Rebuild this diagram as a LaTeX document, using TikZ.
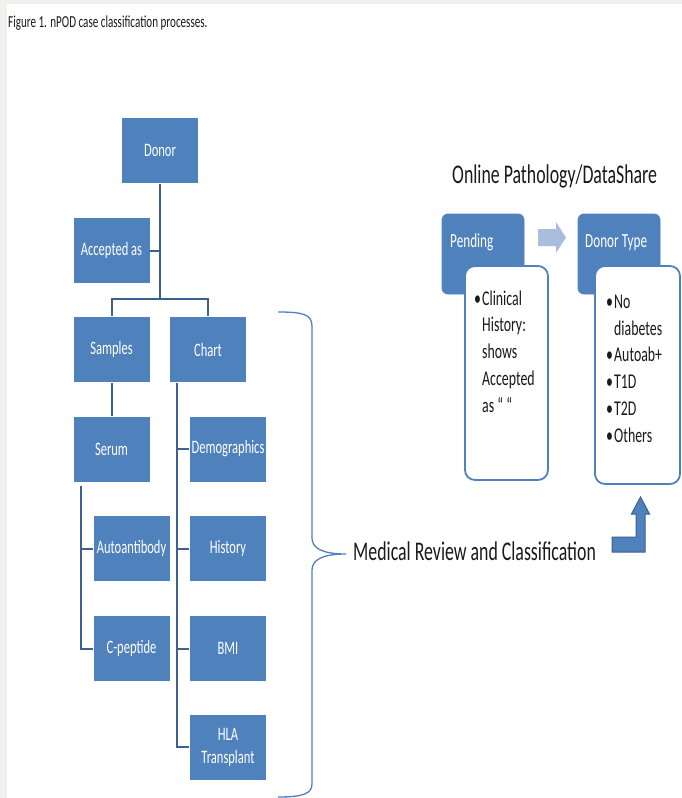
\documentclass[tikz,border=0pt]{standalone}
\usepackage{fontspec}
\setmainfont[FakeStretch=0.66]{Carlito}
\definecolor{boxblue}{HTML}{4F81BD}
\definecolor{linkblue}{HTML}{3C6091}
\definecolor{lightarrow}{HTML}{A9BEDC}
\definecolor{bggray}{HTML}{F0F0EC}
\definecolor{txt}{HTML}{1A1A1A}
\begin{document}
\begin{tikzpicture}[x=1pt,y=-1pt,
  bbox/.style={rectangle, fill=boxblue, draw=white, line width=0.6pt,
    minimum width=77pt, minimum height=66pt, inner sep=0pt, text=white,
    font=\fontsize{19}{23}\selectfont, align=center},
  link/.style={draw=linkblue, line width=2pt},
  hdr/.style={rectangle, rounded corners=6pt, fill=boxblue, draw=boxblue,
    line width=0.8pt, minimum width=82pt, minimum height=80pt, inner sep=0pt},
  wbox/.style={rectangle, rounded corners=10pt, fill=white, draw=boxblue,
    line width=1.8pt, inner sep=0pt},
  hdrtext/.style={anchor=base west, inner sep=0pt, text=white,
    font=\fontsize{20}{24}\selectfont},
  listtext/.style={anchor=base west, inner sep=0pt, text=txt,
    font=\fontsize{21}{26}\selectfont},
  bigtext/.style={anchor=base west, inner sep=0pt, text=txt,
    font=\fontsize{27}{32}\selectfont},
  brace/.style={draw=boxblue, line width=1.3pt}
]
\useasboundingbox (0,0) rectangle (682,798);
\fill[bggray] (0,0) rectangle (682,798);
\fill[white] (7,4) rectangle (682,798);

% title
\node[anchor=base west, inner sep=0pt, text=txt, font=\fontsize{16.8}{20}\selectfont] (title) at (8,27) {Figure 1. nPOD case classification processes.};

% tree boxes
\node[bbox] (donor)   at (160,150.5) {Donor};
\node[bbox] (acc)     at (111.5,250.5) {Accepted as};
\node[bbox] (samples) at (111.5,349.5) {Samples};
\node[bbox] (chart)   at (208,349.5) {Chart};
\node[bbox] (serum)   at (111.5,449) {Serum};
\node[bbox] (demo)    at (228,449) {Demographics};
\node[bbox] (auto)    at (131.5,548.5) {Autoantibody};
\node[bbox] (hist)    at (228,548.5) {History};
\node[bbox] (cpep)    at (131.5,648.5) {C-peptide};
\node[bbox] (bmi)     at (228,648.5) {BMI};
\node[bbox] (hla)     at (228,747) {HLA\\Transplant};

% connectors
\coordinate (j1) at (160,299);
\draw[link] (donor.south) -- (j1);
\draw[link] (acc.east) -- (acc.east -| j1);
\draw[link] (samples.north) -- (samples.north |- j1) -- (chart.north |- j1) -- (chart.north);
\draw[link] (samples.south) -- (serum.north);
\coordinate (sv) at (81,486);
\draw[link] (sv) |- (cpep.west);
\draw[link] (sv |- auto.west) -- (auto.west);
\coordinate (cv) at (177,383);
\draw[link] (cv) |- (hla.west);
\draw[link] (cv |- demo.west) -- (demo.west);
\draw[link] (cv |- hist.west) -- (hist.west);
\draw[link] (cv |- bmi.west) -- (bmi.west);

% brace
\coordinate (btip) at (346,554);
\draw[brace] (278,312) .. controls (302,312) and (312,314) .. (312,326)
  -- (312,538) .. controls (312,548) and (322,554) .. (btip)
  .. controls (322,554) and (312,560) .. (312,570)
  -- (312,784) .. controls (312,794) and (302,797) .. (278,797);
\node[bigtext] (mrc) at (353,560) {Medical Review and Classification};

% right side
\node[bigtext] (online) at (452,183) {Online Pathology/DataShare};
\node[hdr] (pending) at (483,254) {};
\node[hdr] (dtype) at (619,254) {};
\node[wbox, minimum width=83pt, minimum height=214pt] (w1) at (506.5,373) {};
\node[wbox, minimum width=85pt, minimum height=218pt] (w2) at (637.5,375) {};
\node[hdrtext] (pendtxt) at (450,247) {Pending};
\node[hdrtext] (dtypetxt) at (585,247) {Donor Type};

% light arrow between headers
\fill[lightarrow] (538,229) -- (556,229) -- (556,222) -- (566,237.5) -- (556,253) -- (556,246) -- (538,246) -- cycle;

% lists
\node[listtext] (c1) at (474,305) {\makebox[8pt][l]{•}Clinical};
\node[listtext] (c2) at (474,331.7) {\hspace*{8pt}History:};
\node[listtext] (c3) at (474,358.4) {\hspace*{8pt}shows};
\node[listtext] (c4) at (474,385) {\hspace*{8pt}Accepted};
\node[listtext] (c5) at (474,412) {\hspace*{8pt}as “ “};

\node[listtext] (d1) at (606,308) {\makebox[8pt][l]{•}No};
\node[listtext] (d2) at (606,335) {\hspace*{8pt}diabetes};
\node[listtext] (d3) at (606,361) {\makebox[8pt][l]{•}Autoab+};
\node[listtext] (d4) at (606,388) {\makebox[8pt][l]{•}T1D};
\node[listtext] (d5) at (606,415) {\makebox[8pt][l]{•}T2D};
\node[listtext] (d6) at (606,442) {\makebox[8pt][l]{•}Others};

% bent-up arrow
\draw[fill=boxblue, draw=linkblue, line width=1pt, line join=miter]
  (612,537) -- (636,537) -- (636,514) -- (631.5,514) -- (640.5,497) -- (649.5,514)
  -- (645,514) -- (645,552) -- (612,552) -- cycle;
\end{tikzpicture}
\end{document}
